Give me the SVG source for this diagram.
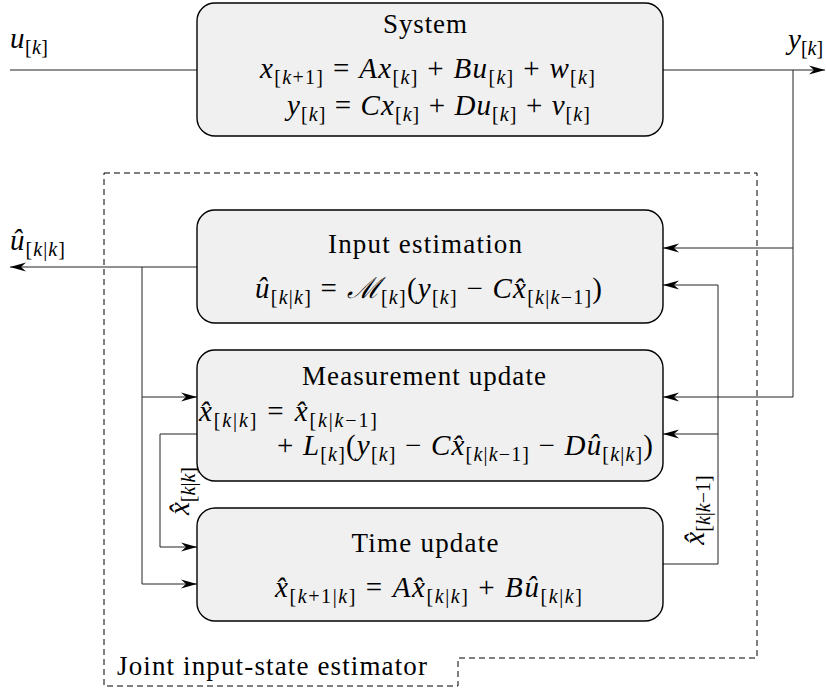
<svg xmlns="http://www.w3.org/2000/svg" width="826" height="691" viewBox="0 0 826 691">
  <style>
    .box { fill: #f0f0f0; stroke: #000; stroke-width: 1.4; }
    .wire { fill: none; stroke: #222; stroke-width: 1; }
    .frame { fill: none; stroke: #000; stroke-width: 1; stroke-dasharray: 6 4; }
    .tx { font-family: "Liberation Serif", serif; font-size: 27px; fill: #000; }
    .mx { font-family: "Liberation Serif", serif; font-size: 29px; fill: #000; }
    .i { font-style: italic; }
    .s { font-size: 20px; }
  </style>
  <defs>
    <marker id="ah" viewBox="-16 -5 16 10" refX="0" refY="0" markerWidth="16" markerHeight="10" markerUnits="userSpaceOnUse" orient="auto">
      <path d="M0,0 L-16,-4.5 L-11,0 L-16,4.5 Z" fill="#000"/>
    </marker>
  </defs>

  <!-- estimator frame -->
  <g id="estimator">
    <path class="frame" d="M104,173 H757 V658 H458 V686 H104 Z"/>
    <text class="tx" x="117" y="675" textLength="310">Joint input-state estimator</text>
  </g>

  <!-- connectors -->
  <g id="connectors">
    <path class="wire" d="M10,70 H197"/>
    <path class="wire" d="M663,70 H825" marker-end="url(#ah)"/>
    <path class="wire" d="M793,70 V397 H663" marker-end="url(#ah)"/>
    <path class="wire" d="M793,248 H663" marker-end="url(#ah)"/>
    <path class="wire" d="M663,564 H718 V285 H663" marker-end="url(#ah)"/>
    <path class="wire" d="M718,434 H663" marker-end="url(#ah)"/>
    <path class="wire" d="M197,267 H10" marker-end="url(#ah)"/>
    <path class="wire" d="M142,267 V584 H197" marker-end="url(#ah)"/>
    <path class="wire" d="M142,397 H197" marker-end="url(#ah)"/>
    <path class="wire" d="M197,434 H160 V547 H197" marker-end="url(#ah)"/>
  </g>

  <!-- signal labels -->
  <g id="labels">
    <text class="mx" x="10" y="48" textLength="38"><tspan class="i">u</tspan><tspan class="s" dy="6">[<tspan class="i">k</tspan>]</tspan></text>
    <text class="mx" x="788" y="49"><tspan class="i">y</tspan><tspan class="s" dy="6">[<tspan class="i">k</tspan>]</tspan></text>
    <text class="mx" x="10" y="250" textLength="55"><tspan class="i">û</tspan><tspan class="s" dy="6">[<tspan class="i">k</tspan>|<tspan class="i">k</tspan>]</tspan></text>
    <text class="mx" transform="translate(189,491) rotate(-90)" text-anchor="middle"><tspan class="i">x̂</tspan><tspan class="s" dy="6">[<tspan class="i">k</tspan>|<tspan class="i">k</tspan>]</tspan></text>
    <text class="mx" transform="translate(704,510) rotate(-90)" text-anchor="middle"><tspan class="i">x̂</tspan><tspan class="s" dy="6">[<tspan class="i">k</tspan>|<tspan class="i">k</tspan>−1]</tspan></text>
  </g>

  <!-- plant -->
  <g id="sys">
    <rect class="box" x="197" y="3" width="466" height="133" rx="18"/>
    <text class="tx" x="425" y="33" text-anchor="middle" textLength="84">System</text>
    <text class="mx" x="260" y="78" textLength="335"><tspan class="i">x</tspan><tspan class="s" dy="6">[<tspan class="i">k</tspan>+1]</tspan><tspan dy="-6"> = </tspan><tspan class="i">Ax</tspan><tspan class="s" dy="6">[<tspan class="i">k</tspan>]</tspan><tspan dy="-6"> + </tspan><tspan class="i">Bu</tspan><tspan class="s" dy="6">[<tspan class="i">k</tspan>]</tspan><tspan dy="-6"> + </tspan><tspan class="i">w</tspan><tspan class="s" dy="6">[<tspan class="i">k</tspan>]</tspan></text>
    <text class="mx" x="287" y="115" textLength="303"><tspan class="i">y</tspan><tspan class="s" dy="6">[<tspan class="i">k</tspan>]</tspan><tspan dy="-6"> = </tspan><tspan class="i">Cx</tspan><tspan class="s" dy="6">[<tspan class="i">k</tspan>]</tspan><tspan dy="-6"> + </tspan><tspan class="i">Du</tspan><tspan class="s" dy="6">[<tspan class="i">k</tspan>]</tspan><tspan dy="-6"> + </tspan><tspan class="i">v</tspan><tspan class="s" dy="6">[<tspan class="i">k</tspan>]</tspan></text>
  </g>

  <!-- input estimation -->
  <g id="inest">
    <rect class="box" x="197" y="210" width="466" height="113" rx="18"/>
    <text class="tx" x="425" y="253" text-anchor="middle" textLength="194">Input estimation</text>
    <text class="mx" x="255" y="298" textLength="347"><tspan class="i">û</tspan><tspan class="s" dy="6">[<tspan class="i">k</tspan>|<tspan class="i">k</tspan>]</tspan><tspan dy="-6"> = </tspan><tspan class="i">ℳ</tspan><tspan class="s" dy="6">[<tspan class="i">k</tspan>]</tspan><tspan dy="-6">(</tspan><tspan class="i">y</tspan><tspan class="s" dy="6">[<tspan class="i">k</tspan>]</tspan><tspan dy="-6"> − </tspan><tspan class="i">Cx̂</tspan><tspan class="s" dy="6">[<tspan class="i">k</tspan>|<tspan class="i">k</tspan>−1]</tspan><tspan dy="-6">)</tspan></text>
  </g>

  <!-- measurement update -->
  <g id="meas">
    <rect class="box" x="197" y="350" width="466" height="131" rx="18"/>
    <text class="tx" x="424" y="385" text-anchor="middle" textLength="244">Measurement update</text>
    <text class="mx" x="199" y="421" textLength="178"><tspan class="i">x̂</tspan><tspan class="s" dy="6">[<tspan class="i">k</tspan>|<tspan class="i">k</tspan>]</tspan><tspan dy="-6"> = </tspan><tspan class="i">x̂</tspan><tspan class="s" dy="6">[<tspan class="i">k</tspan>|<tspan class="i">k</tspan>−1]</tspan></text>
    <text class="mx" x="277" y="455" textLength="376"><tspan>+ </tspan><tspan class="i">L</tspan><tspan class="s" dy="6">[<tspan class="i">k</tspan>]</tspan><tspan dy="-6">(</tspan><tspan class="i">y</tspan><tspan class="s" dy="6">[<tspan class="i">k</tspan>]</tspan><tspan dy="-6"> − </tspan><tspan class="i">Cx̂</tspan><tspan class="s" dy="6">[<tspan class="i">k</tspan>|<tspan class="i">k</tspan>−1]</tspan><tspan dy="-6"> − </tspan><tspan class="i">Dû</tspan><tspan class="s" dy="6">[<tspan class="i">k</tspan>|<tspan class="i">k</tspan>]</tspan><tspan dy="-6">)</tspan></text>
  </g>

  <!-- time update -->
  <g id="tupd">
    <rect class="box" x="197" y="508" width="466" height="113" rx="18"/>
    <text class="tx" x="425" y="552" text-anchor="middle" textLength="147">Time update</text>
    <text class="mx" x="275" y="597" textLength="307"><tspan class="i">x̂</tspan><tspan class="s" dy="6">[<tspan class="i">k</tspan>+1|<tspan class="i">k</tspan>]</tspan><tspan dy="-6"> = </tspan><tspan class="i">Ax̂</tspan><tspan class="s" dy="6">[<tspan class="i">k</tspan>|<tspan class="i">k</tspan>]</tspan><tspan dy="-6"> + </tspan><tspan class="i">Bû</tspan><tspan class="s" dy="6">[<tspan class="i">k</tspan>|<tspan class="i">k</tspan>]</tspan></text>
  </g>
</svg>
